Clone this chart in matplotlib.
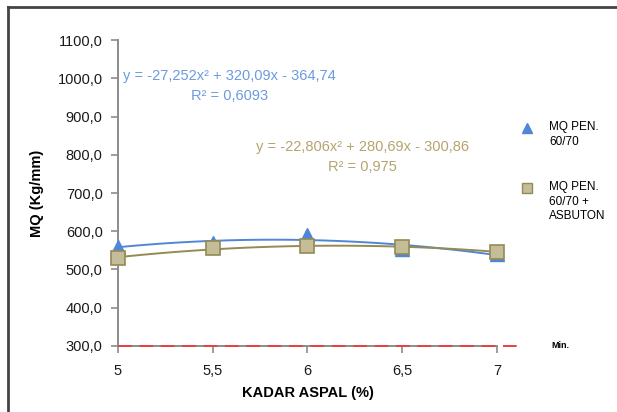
import matplotlib
matplotlib.use("Agg")
import matplotlib.pyplot as plt
from matplotlib.lines import Line2D
import numpy as np

plt.rcParams["font.family"] = ["Liberation Sans", "DejaVu Sans"]

# data
kadar = [5, 5.5, 6, 6.5, 7]
mq_pen = [559, 569, 590, 553, 541]
mq_asbuton = [531, 555, 561, 558, 547]
min_mq = 300
y_ticks = [300, 400, 500, 600, 700, 800, 900, 1000, 1100]
x_ticks = [5, 5.5, 6, 6.5, 7]

eq_pen = "y = -27,252x² + 320,09x - 364,74\nR² = 0,6093"
eq_asb = "y = -22,806x² + 280,69x - 300,86\nR² = 0,975"

blue = "#4F86D6"
olive_face = "#C4BD97"
olive_edge = "#948A54"

fig = plt.figure(figsize=(6.17, 4.12), dpi=100)
ax = fig.add_axes([0.1912, 0.1602, 0.6143, 0.7427])

# trendlines (2nd order polynomial)
xs = np.linspace(5, 7, 100)
p1 = np.polyfit(kadar, mq_pen, 2)
p2 = np.polyfit(kadar, mq_asbuton, 2)
ax.plot(xs, np.polyval(p1, xs), color=blue, lw=1.4, zorder=2)
ax.plot(xs, np.polyval(p2, xs), color=olive_edge, lw=1.4, zorder=2)

ax.plot(kadar, mq_pen, ls="none", marker="^", ms=10, color=blue,
        markeredgecolor=blue, zorder=3, clip_on=False)
ax.plot(kadar, mq_asbuton, ls="none", marker="s", ms=10,
        markerfacecolor=olive_face, markeredgecolor=olive_edge,
        markeredgewidth=1.2, zorder=4, clip_on=False)

# minimum line
ax.plot([5, 7.14], [min_mq, min_mq], color="#E8413A", lw=1.4,
        ls=(0, (7, 4)), clip_on=False, zorder=5)

ax.set_xlim(5, 7)
ax.set_ylim(300, 1100)
ax.set_xticks(x_ticks)
ax.set_xticklabels([f"{v:g}".replace(".", ",") for v in x_ticks])
ax.set_yticks(y_ticks)
ax.set_yticklabels([f"{v:.1f}".replace(".", ",") for v in y_ticks])
ax.tick_params(axis="both", labelsize=10.5, color="#8C8C8C", length=5,
               width=1.2, labelcolor="#1A1A1A")
ax.tick_params(axis="x", pad=8)
ax.tick_params(axis="y", pad=6)
for s in ["top", "right"]:
    ax.spines[s].set_visible(False)
for s in ["left", "bottom"]:
    ax.spines[s].set_color("#8C8C8C")
    ax.spines[s].set_linewidth(1.4)

ax.set_xlabel("KADAR ASPAL (%)", fontsize=10.5, fontweight="bold", labelpad=6)
ax.set_ylabel("MQ (Kg/mm)", fontsize=10.5, fontweight="bold", labelpad=10)

# trendline equations
ax.text(0.295, 0.85, eq_pen, transform=ax.transAxes, color="#6C9BE0",
        fontsize=10.5, ha="center", va="center", multialignment="center",
        linespacing=1.55)
ax.text(0.645, 0.619, eq_asb, transform=ax.transAxes, color="#B5A46E",
        fontsize=10.5, ha="center", va="center", multialignment="center",
        linespacing=1.55)

# legend on the right
fig.add_artist(Line2D([527 / 617], [1 - 128 / 412], marker="^", ms=7,
                      color=blue, transform=fig.transFigure))
fig.add_artist(Line2D([527 / 617], [1 - 188 / 412], marker="s", ms=7,
                      markerfacecolor=olive_face, markeredgecolor=olive_edge,
                      transform=fig.transFigure))
fig.text(549 / 617, 1 - 121 / 412, "MQ PEN.\n60/70", fontsize=8.5, va="top",
         linespacing=1.3)
fig.text(549 / 617, 1 - 181 / 412, "MQ PEN.\n60/70 +\nASBUTON", fontsize=8.5,
         va="top", linespacing=1.3)
fig.text(551 / 617, 1 - 345 / 412, "Min.", fontsize=6.5, fontweight="bold",
         va="center")

# outer frame
fig.add_artist(Line2D([8 / 617, 8 / 617], [0, 1 - 7 / 412], color="#444444",
                      lw=2, transform=fig.transFigure))
fig.add_artist(Line2D([8 / 617, 1], [1 - 7 / 412, 1 - 7 / 412],
                      color="#444444", lw=2, transform=fig.transFigure))

fig.savefig("out.png", dpi=100, facecolor="white")
